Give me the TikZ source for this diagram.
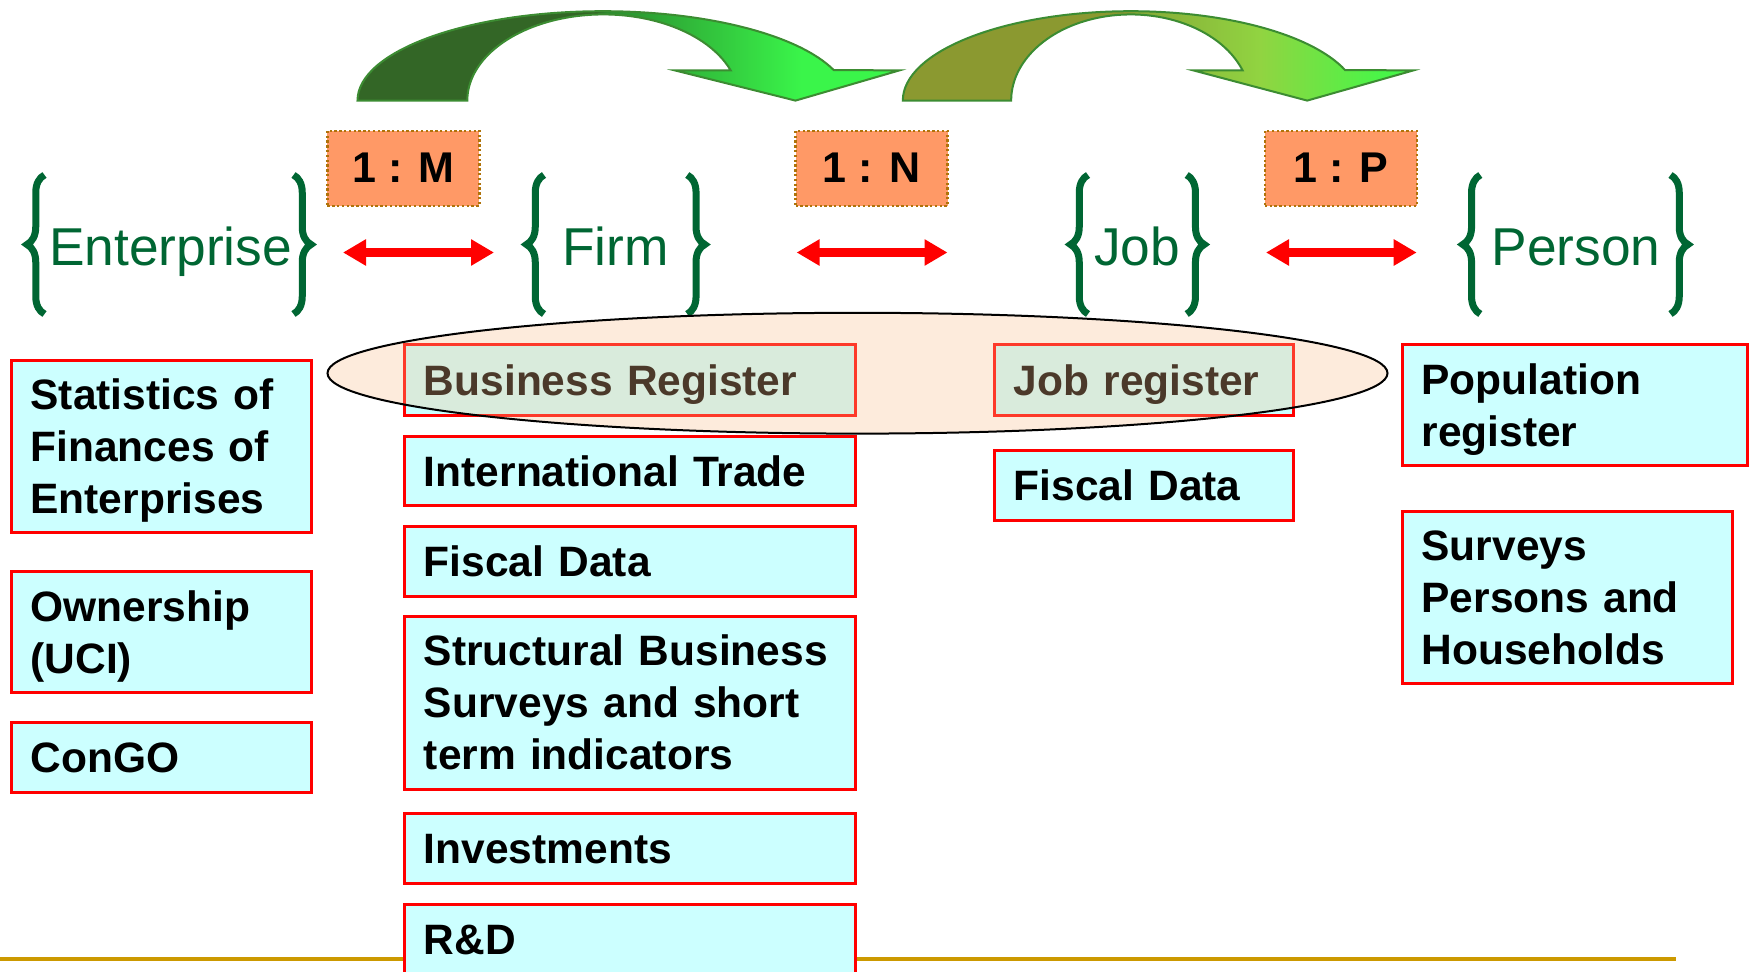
\documentclass[tikz,border=0pt]{standalone}
\usepackage{fontspec}
\setmainfont{Liberation Sans}
\usepackage{tikz}
\usetikzlibrary{arrows.meta,decorations.pathreplacing}

\definecolor{boxcyan}{RGB}{204,255,255}
\definecolor{entgreen}{RGB}{0,102,51}
\definecolor{ratiofill}{RGB}{255,153,102}
\definecolor{ratioedge}{RGB}{175,115,10}
\definecolor{ovalfill}{RGB}{250,190,140}
\definecolor{ruleline}{RGB}{204,153,0}
\definecolor{hopedge}{RGB}{60,140,50}
\definecolor{darkgr}{RGB}{51,102,38}
\definecolor{midgr}{RGB}{42,140,46}
\definecolor{brightgr}{RGB}{58,245,74}
\definecolor{olivegr}{RGB}{139,153,48}
\definecolor{olivemid}{RGB}{135,170,55}
\definecolor{limegr}{RGB}{145,212,65}
\definecolor{brightgrb}{RGB}{72,246,72}

\pgfdeclarehorizontalshading{hopfirm}{100bp}{color(0bp)=(darkgr); color(47bp)=(darkgr);
  color(48bp)=(midgr); color(66bp)=(brightgr); color(100bp)=(brightgr)}
\pgfdeclarehorizontalshading{hopjob}{100bp}{color(0bp)=(olivegr); color(47bp)=(olivegr);
  color(48bp)=(olivemid); color(60bp)=(limegr); color(72bp)=(brightgrb); color(100bp)=(brightgrb)}

\begin{document}
\begin{tikzpicture}[x=1pt, y=-1pt,
      entity/.style ={anchor=base, text=entgreen, font=\fontsize{53.3}{60}\selectfont},
      ent_brace/.style ={draw=entgreen, line width=7pt, decorate,
        decoration={brace, amplitude=17.5pt}},
      ratio_box/.style ={rectangle, draw=ratioedge, line width=2.4pt,
        dash pattern=on 2.4pt off 2.4pt, fill=ratiofill,
        minimum width=152pt, minimum height=75pt,
        font=\fontsize{43}{52}\selectfont\bfseries},
      data_box/.style ={rectangle, draw=red, line width=3pt, fill=boxcyan,
        anchor=north west, outer sep=0pt, align=left, inner xsep=19pt, inner ysep=0pt,
        font=\fontsize{42.5}{52}\selectfont\bfseries,
        execute at begin node=\rule[-9.6pt]{0pt}{49.6pt},
        execute at end node=\rule[-9.6pt]{0pt}{49.6pt}},
      hop/.style ={draw=hopedge, line width=2pt},
      link/.style ={draw=red, line width=9pt,
        {Triangle[length=23pt,width=25pt]}-{Triangle[length=23pt,width=25pt]}},
      reg_oval/.style ={draw=black, line width=2pt, fill=ovalfill, fill opacity=0.3},
      bottom_rule/.style ={draw=ruleline, line width=4pt}]
    \useasboundingbox (0,0) rectangle (1752,971);
    \clip (0,0) rectangle (1752,971);
    %
    % 1. curved arrows on top
    \shadedraw[hop, shading=hopfirm] (357.5,100.6)
      arc[start angle=180, end angle=20, x radius=245.5pt, y radius=89.4pt]
      -- (899.4,70.4) -- (795.5,100.6) -- (674.9,70.4) -- (730.7,70.4)
      arc[start angle=20.5, end angle=180, x radius=136pt, y radius=86.1pt] -- cycle;
    \shadedraw[hop, shading=hopjob] (902.8,100.6)
      arc[start angle=180, end angle=20, x radius=228pt, y radius=89.4pt]
      -- (1413.4,70.4) -- (1307.2,100.6) -- (1193.3,70.4) -- (1242.6,70.4)
      arc[start angle=20.5, end angle=180, x radius=119.5pt, y radius=86.1pt] -- cycle;
    %
    % 2. entities with braces
    \node [entity] (enterprise) at (170.5,265) {Enterprise};
    \node [entity] (firm) at (615.6,265) {Firm};
    \node [entity] (job) at (1137,265) {Job};
    \node [entity] (person) at (1576,265) {Person};
    \draw [ent_brace] (44.5,314) -- (44.5,175);
    \draw [ent_brace] (293.5,175) -- (293.5,314);
    \draw [ent_brace] (544,314) -- (544,175);
    \draw [ent_brace] (687.3,175) -- (687.3,314);
    \draw [ent_brace] (1088,314) -- (1088,175);
    \draw [ent_brace] (1186.7,175) -- (1186.7,314);
    \draw [ent_brace] (1480.3,314) -- (1480.3,175);
    \draw [ent_brace] (1670.5,175) -- (1670.5,314);
    %
    % 3. cardinalities
    \node [ratio_box] (ratio_em) at (403.4,168.2) {1 : M};
    \node [ratio_box] (ratio_fj) at (871.5,168.2) {1 : N};
    \node [ratio_box] (ratio_jp) at (1340.8,168.2) {1 : P};
    \coordinate (em_a) at (343,252.5);
    \coordinate (em_b) at (494,252.5);
    \coordinate (fj_a) at (796.6,252.5);
    \coordinate (fj_b) at (947.5,252.5);
    \coordinate (jp_a) at (1266,252.5);
    \coordinate (jp_b) at (1416.7,252.5);
    \begin{scope}[every path/.style=link]
      \path (em_a) -- (em_b);
      \path (fj_a) -- (fj_b);
      \path (jp_a) -- (jp_b);
    \end{scope}
    %
    % 4. sources
    \path [bottom_rule] (0,959.3) -- (1676,959.3);
    % enterprise column
    \node [data_box, text width=261.8pt, minimum height=172.3pt] (fin_stats) at (11.5,360.2)
      {Statistics of\\Finances of\\Enterprises};
    \node [data_box, text width=261.8pt, minimum height=121.1pt] (ownership) at (11.5,571.3)
      {Ownership\\(UCI)};
    \node [data_box, text width=261.8pt, minimum height=70.7pt] (congo) at (11.5,722.2) {ConGO};
    % firm column
    \node [data_box, text width=412.6pt, minimum height=70.8pt] (bus_reg) at (404.9,344.5)
      {Business Register};
    \node [data_box, text width=412.6pt, minimum height=69.7pt] (int_trade) at (404.9,436.1)
      {International Trade};
    \node [data_box, text width=412.6pt, minimum height=69.7pt] (fiscal_firm) at (404.9,526.6)
      {Fiscal Data};
    \node [data_box, text width=412.6pt, minimum height=173.5pt] (sbs) at (404.9,616)
      {Structural Business\\Surveys and short\\term indicators};
    \node [data_box, text width=412.6pt, minimum height=69.7pt] (invest) at (404.9,813.8)
      {Investments};
    \node [data_box, text width=412.6pt, minimum height=69.7pt] (rnd) at (404.9,904.3) {R\&D};
    % job column
    \node [data_box, text width=260.7pt, minimum height=70.8pt] (job_reg) at (994.8,344.5)
      {Job register};
    \node [data_box, text width=260.7pt, minimum height=69.6pt] (fiscal_job) at (994.8,450.7)
      {Fiscal Data};
    % person column
    \node [data_box, text width=306.6pt, minimum height=121pt] (pop_reg) at (1402.5,344.5)
      {Population\\register};
    \node [data_box, text width=292pt, minimum height=172.5pt] (surveys) at (1402.5,511)
      {Surveys\\Persons and\\Households};
    %
    % 5. registers oval
    \path [reg_oval] (857.5,373.2) ellipse [x radius=530pt, y radius=60.4pt];
  \end{tikzpicture}
\end{document}
